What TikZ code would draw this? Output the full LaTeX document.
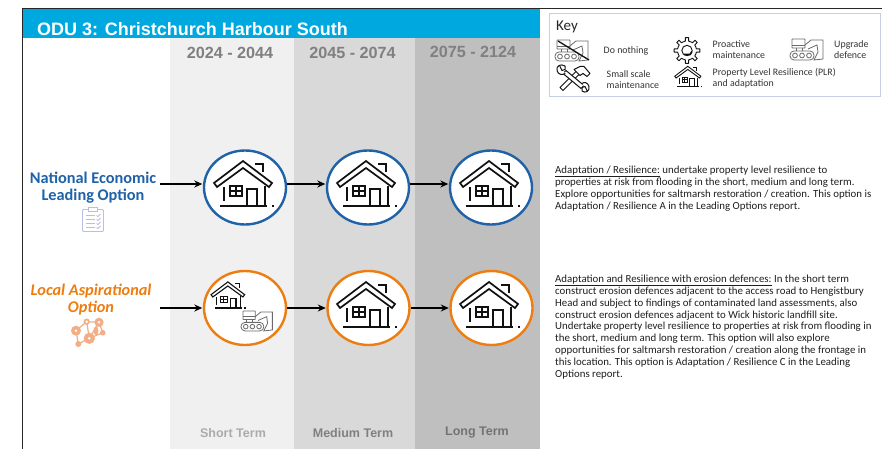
\documentclass[tikz,border=0pt]{standalone}
\usepackage{fontspec}
\setmainfont{Carlito}
\newfontfamily\arialfont{Liberation Sans}
\usetikzlibrary{arrows.meta,shapes.geometric}
\definecolor{hdrblue}{HTML}{00A8E0}
\definecolor{natblue}{HTML}{1F62A8}
\definecolor{locorange}{HTML}{EE7D11}
\definecolor{lightorange}{HTML}{F4AE86}
\definecolor{clipblue}{HTML}{B9BEE6}
\definecolor{keyedge}{HTML}{C5D0E3}
\definecolor{iconblack}{HTML}{111111}
\definecolor{icongrey}{HTML}{6A6A6A}
\tikzset{
  x=1pt,y=-1pt,
  optcircle/.style={ellipse,draw=#1,line width=2.4pt,fill=white,minimum width=82pt,minimum height=74pt,inner sep=0pt},
  flow/.style={-{Stealth[length=8pt,width=7pt]},line width=1.8pt,black,shorten >=0.5pt},
  years/.style={font=\arialfont\bfseries\fontsize{16.2}{16}\selectfont,text=#1,inner sep=0pt},
  term/.style={font=\arialfont\bfseries\fontsize{12.5}{13}\selectfont,text=#1,inner sep=0pt},
  optlabel/.style={align=center,font=\bfseries\fontsize{16.3}{17}\selectfont,text=#1,inner sep=0pt},
  keytxt/.style={align=left,anchor=west,font=\fontsize{9.9}{11}\selectfont,text=black!80,inner sep=0pt},
  para/.style={align=left,anchor=north west,font=\fontsize{10.85}{11.88}\selectfont,text=black!88,inner sep=0pt},
  pics/houseicon/.style={code={
    \begin{scope}[line width=#1,draw=iconblack,line join=miter]
      \draw (-2,-26) -- (27,-4) -- (24,0) -- (-2,-19) -- (-28,0) -- (-31,-4) -- cycle;
      \draw (10,-23) -- (18,-23) -- (18,-15);
      \draw (-25,19) -- (22,19);
      \draw (-21,0) -- (-21,14);
      \draw (20,-1) -- (20,19);
      \draw (-15,-1) rectangle (-3,9);
      \draw (-9,-1) -- (-9,9) (-15,4) -- (-3,4);
      \draw (2,19) -- (2,2) -- (12,2) -- (12,19);
      \fill[iconblack] (26.5,18) rectangle (28.5,20);
    \end{scope}}},
  pics/digger/.style={code={
    \begin{scope}[line width=0.8pt,draw=icongrey]
      \draw[rounded corners=0.5pt] (2,1) rectangle (15,10);
      \draw (2,7) -- (15,7);
      \draw (6,10) -- (6,13) (12,10) -- (12,13);
      \draw[rounded corners=4pt] (0,13) rectangle (24,22);
      \foreach \cx in {5,12,19} \draw (\cx,17.5) circle (2.4);
      \draw (15,7) -- (21,2) -- (33,2) -- (33,21) -- (24,22) -- (28,14) -- (27,7) -- (18,11);
    \end{scope}}},
  pics/gearicon/.style={code={
    \foreach \ga in {0,45,...,315}
      \draw[rotate=\ga,line width=0.9pt,iconblack,line join=round]
        (-22.5:9.5) -- (-10:9.5) -- (-7:13) -- (7:13) -- (10:9.5) -- (22.5:9.5);
    \draw[line width=0.9pt,iconblack] (0,0) circle (5.2);
    \draw[line width=1.6pt,iconblack] (-3,4) -- (3,4) -- (5,1);
  }},
  pics/toolsicon/.style={code={
    \begin{scope}[line cap=round,line join=round,draw=iconblack,line width=1pt]
      \draw[fill=white] (-13,9) -- (-10,12) -- (8,-6) -- (5,-9) -- cycle;
      \draw[fill=white] (1,-9) -- (7,-12) -- (11,-12) -- (17,-5) -- (14,-2) -- (10,-5) -- (7,-3) -- cycle;
      \draw[fill=white] (-10,-5) -- (-7,-8) -- (11,7) -- (8,10) -- cycle;
      \draw[fill=white] (-13,-12) -- (-11,-8) -- (-8,-9) -- (-8,-12.5)
        .. controls (-12,-15) and (-17,-13) .. (-16,-8) .. controls (-15,-4) and (-11,-3) .. (-8,-5);
      \draw[fill=white] (14,12) -- (12,8) -- (9,9) -- (9,12.5)
        .. controls (12,15) and (17,13) .. (16,8) .. controls (15,4) and (11,3) .. (9,5);
    \end{scope}}},
  pics/clipicon/.style={code={
    \begin{scope}[draw=clipblue,line width=0.9pt]
      \draw[rounded corners=1pt] (0,2) rectangle (21,24);
      \draw[fill=white] (6,0) rectangle (15,4);
      \foreach \ly in {8,12,16,20} {\draw (3,\ly) -- (12,\ly); \draw (14,\ly) -- (15.5,\ly+1) -- (18,\ly-1.5);}
    \end{scope}}},
  pics/neticon/.style={code={
    \begin{scope}[draw=lightorange,line width=1.2pt]
      \draw (76,70.7) -- (86.7,61.7) -- (99,62.3) -- (102.7,72.7) -- (89.3,78.3) -- (78.3,84) -- (76,70.7)
            (86.7,61.7) -- (89.3,78.3) (99,62.3) -- (89.3,78.3);
      \fill[lightorange] (76,70.7) circle (5) (86.7,61.7) circle (3.2) (99,62.3) circle (4.6)
            (102.7,72.7) circle (2.8) (89.3,78.3) circle (5.6) (78.3,84) circle (3) (96,70.7) ellipse (2.4 and 4.5);
      \foreach \nx/\ny in {76/70.7,86.7/61.7,99/62.3,89.3/78.3} \fill[white] (\nx,\ny) circle (1.4);
    \end{scope}}}
}
\begin{document}
\begin{tikzpicture}
\useasboundingbox (0,0) rectangle (882,449);
\fill[white] (0,0) rectangle (882,449);
% bands
\fill[black!6] (170,38) rectangle (294,449);
\fill[black!15] (294,38) rectangle (415,449);
\fill[black!25] (415,38) rectangle (540,449);
\fill[hdrblue] (23,9) rectangle (540,38);
\draw[line width=1pt,black!85] (22,449) -- (22,8.5) -- (882,8.5);
% header
\node[anchor=west,inner sep=0pt,text=white,font=\arialfont\bfseries\fontsize{18}{18}\selectfont] (title) at (37,29) {ODU 3: Christchurch Harbour South};
\node[years=black!50] (y1) at (230,52.5) {2024 - 2044};
\node[years=black!50] (y2) at (352.5,52.5) {2045 - 2074};
\node[years=black!50] (y3) at (473,52) {2075 - 2124};
\node[term=black!33] (t1) at (233,433) {Short Term};
\node[term=black!50] (t2) at (353,433) {Medium Term};
\node[term=black!55] (t3) at (477,433) {Long Term};
% option labels
\node[optlabel=natblue] (natl) at (93,187.5) {National Economic\\Leading Option};
\node[optlabel=locorange,font=\bfseries\itshape\fontsize{16.3}{17}\selectfont] (locl) at (91,299.5) {Local Aspirational\\Option};
\pic at (82.5,207.5) {clipicon};
\pic at (0,260) {neticon};
% circles
\node[optcircle=natblue] (a1) at (245,187.5) {};
\node[optcircle=natblue] (a2) at (368,187.5) {};
\node[optcircle=natblue] (a3) at (491,187.5) {};
\node[optcircle=locorange] (b1) at (245,308) {};
\node[optcircle=locorange] (b2) at (368.5,308) {};
\node[optcircle=locorange] (b3) at (491.5,308) {};
\pic at (245,187) {houseicon=1.7pt};
\pic at (368,187) {houseicon=1.7pt};
\pic at (491,187) {houseicon=1.7pt};
\pic at (368,308) {houseicon=1.7pt};
\pic at (491,308) {houseicon=1.7pt};
\pic[scale=.58] at (229,297) {houseicon=1.1pt};
\pic[scale=.95] at (241,310) {digger};
% connectors
\coordinate (sa) at (160,184);
\coordinate (sb) at (160,308);
\draw[flow] (sa) -- (a1.west |- sa);
\draw[flow] (a1.east |- sa) -- (a2.west |- sa);
\draw[flow] (a2.east |- sa) -- (a3.west |- sa);
\draw[flow] (sb) -- (b1.west);
\draw[flow] (b1.east) -- (b2.west);
\draw[flow] (b2.east) -- (b3.west);
% key
\draw[keyedge,line width=0.9pt] (549.5,13.5) rectangle (880,96.5);
\node[anchor=west,inner sep=0pt,text=black!85,font=\fontsize{15}{15}\selectfont] (keyt) at (556,27) {Key};
\pic at (555,39) {digger};
\draw[iconblack,line width=1.3pt] (558,41) -- (589,60);
\pic at (790,38) {digger};
\pic at (687,50.5) {gearicon};
\pic at (573,78.5) {toolsicon};
\pic[scale=.45] at (688.7,78) {houseicon=0.9pt};
\node[keytxt] (k1) at (603.5,51) {Do nothing};
\node[keytxt] (k2) at (712.5,49.5) {Proactive\\maintenance};
\node[keytxt] (k3) at (834,49.5) {Upgrade\\defence};
\node[keytxt] (k4) at (606.5,79.5) {Small scale\\maintenance};
\node[keytxt] (k5) at (712.5,78) {Property Level Resilience (PLR)\\and adaptation};
% paragraphs
\node[para] (p1) at (555,165.7) {\underline{Adaptation / Resilience:} undertake property level resilience to\\
properties at risk from flooding in the short, medium and long term.\\
Explore opportunities for saltmarsh restoration / creation. This option is\\
Adaptation / Resilience A in the Leading Options report.};
\node[para] (p2) at (555,274.7) {\underline{Adaptation and Resilience with erosion defences:} In the short term\\
construct erosion defences adjacent to the access road to Hengistbury\\
Head and subject to findings of contaminated land assessments, also\\
construct erosion defences adjacent to Wick historic landfill site.\\
Undertake property level resilience to properties at risk from flooding in\\
the short, medium and long term. This option will also explore\\
opportunities for saltmarsh restoration / creation along the frontage in\\
this location.  This option is Adaptation / Resilience C in the Leading\\
Options report.};
\end{tikzpicture}
\end{document}
